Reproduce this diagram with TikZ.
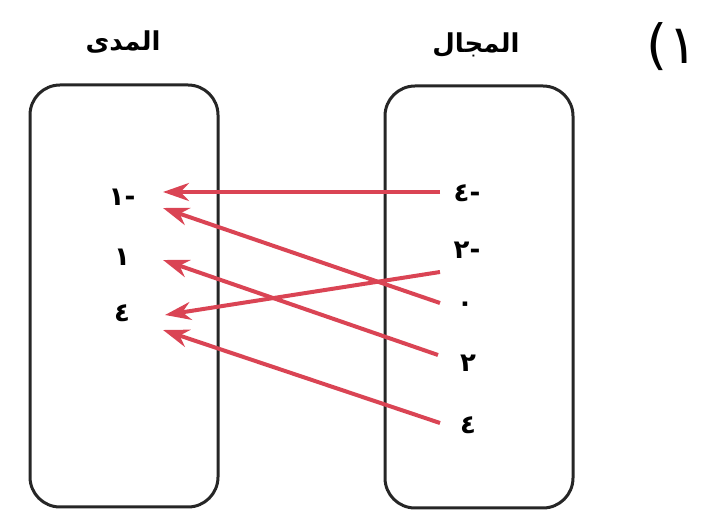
\documentclass[tikz,border=0pt]{standalone}
\usepackage{fontspec}
\newfontfamily\arabicfont[Script=Arabic]{DejaVu Sans}
\TeXXeTstate=1
\usetikzlibrary{arrows.meta}
\definecolor{maparrow}{RGB}{218,68,84}

\begin{document}
\begin{tikzpicture}[x=1pt,y=-1pt,
                    set/.style={draw=black!85,line width=3pt,rounded corners=30pt,
                                minimum width=188pt,minimum height=422pt},
                    title/.style={font=\arabicfont\bfseries\fontsize{26}{30}\selectfont},
                    elem/.style={font=\arabicfont\bfseries\fontsize{26}{30}\selectfont,inner sep=0pt},
                    mapto/.style={-{Stealth[length=26pt,width=18pt]},draw=maparrow,
                                  line width=4pt}]

  \useasboundingbox (0,0) rectangle (710,510);

  % the two sets
  \node[set]   (range)  at (124,296) {};
  \node[set]   (domain) at (479,297) {};
  \node[title] (rtitle) at (123,42)  {\beginR المدى\endR};
  \node[title] (dtitle) at (476,45)  {\beginR المجال\endR};
  \node[font=\arabicfont\fontsize{54}{58}\selectfont] (qnum) at (672,47) {\beginR ١)\endR};

  % range
  \node[elem] (r1) at (122,197) {\beginR -١\endR};
  \node[elem] (r2) at (122,257) {\beginR ١\endR};
  \node[elem] (r3) at (122,313) {\beginR ٤\endR};

  % domain
  \node[elem] (d1) at (467,193) {\beginR -٤\endR};
  \node[elem] (d2) at (467,250) {\beginR -٢\endR};
  \node[elem] (d3) at (465,307) {\beginR ٠\endR};
  \node[elem] (d4) at (468,363) {\beginR ٢\endR};
  \node[elem] (d5) at (468,425) {\beginR ٤\endR};

  \draw[mapto] ([shift={(-27,-1)}]d1.center) -- ([shift={(41,-5)}]r1.center);
  \draw[mapto] ([shift={(-25,-4)}]d3.center) -- ([shift={(41,11)}]r1.center);
  \draw[mapto] ([shift={(-30,-8)}]d4.center) -- ([shift={(41,3)}]r2.center);
  \draw[mapto] ([shift={(-27,22)}]d2.center) -- ([shift={(43,2)}]r3.center);
  \draw[mapto] ([shift={(-28,-2)}]d5.center) -- ([shift={(41,17)}]r3.center);
\end{tikzpicture}
\end{document}
